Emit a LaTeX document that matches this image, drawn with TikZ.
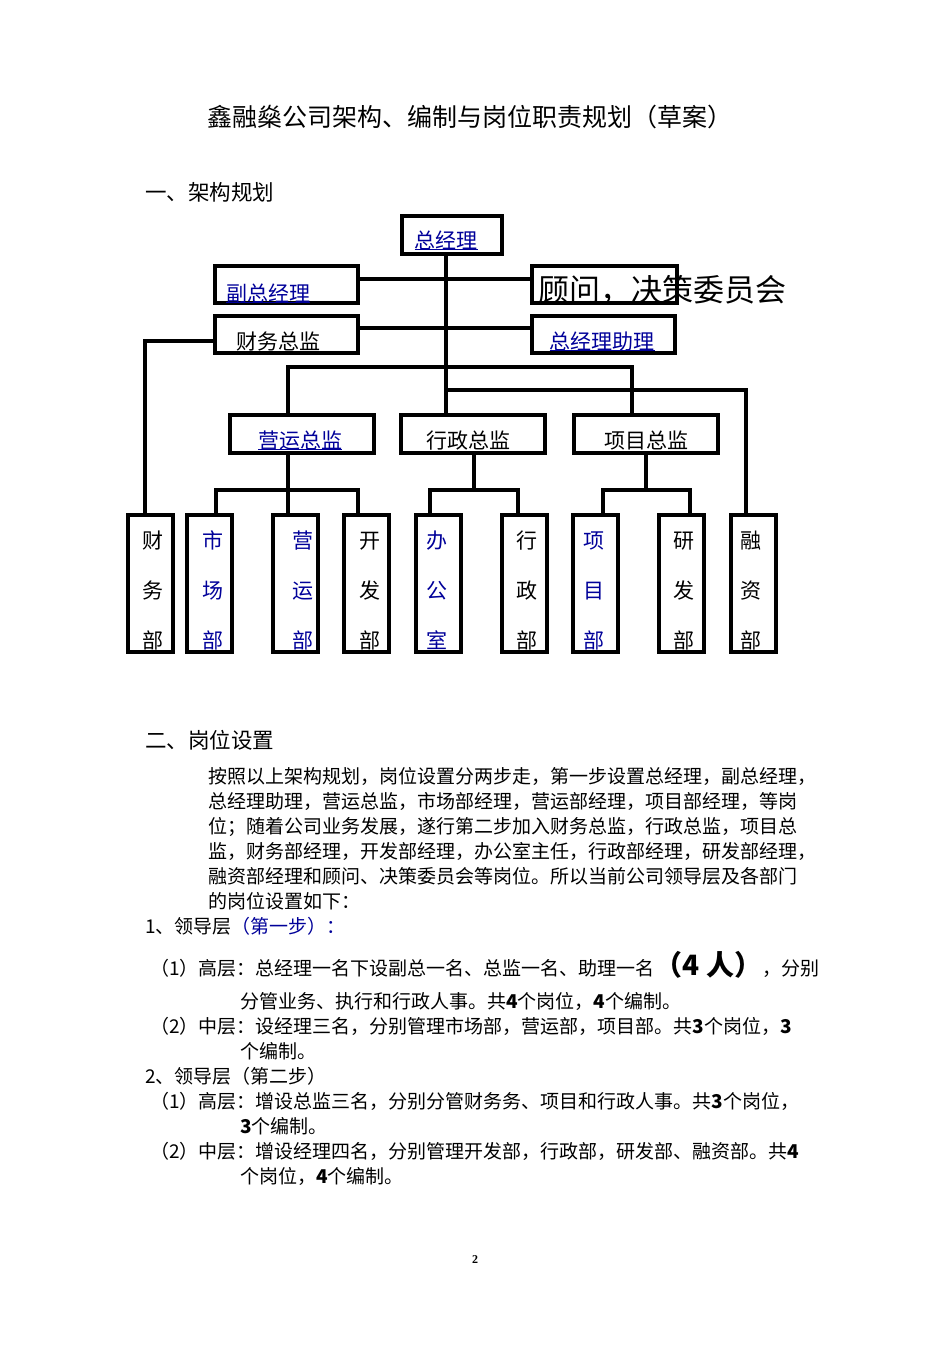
\documentclass[tikz,border=0pt]{standalone}
\usepackage{fontspec}
\setmainfont{Liberation Serif}
\newfontfamily\cjk{Noto Sans CJK SC}
\begin{document}
\begin{tikzpicture}[x=1pt,y=-1pt,
  box/.style={draw,line width=3.2pt},
  ln/.style={line width=3.2pt},
  bl/.style={text=blue!60!black},
  lbl/.style={font=\cjk\fontsize{21}{21}\selectfont,anchor=base},
  txt/.style={anchor=base west,inner sep=0,font=\cjk\fontsize{19}{19}\selectfont}]
\useasboundingbox (0,0) rectangle (950,1345);
\node[anchor=base,font=\cjk\fontsize{25}{25}\selectfont] (title) at (470,126) {鑫融燊公司架构、编制与岗位职责规划（草案）};
\node[txt,font=\cjk\fontsize{21.5}{21.5}\selectfont] (h1) at (145,200) {一、架构规划};
% boxes
\draw[box] (402,216) rectangle (502,254);
\draw[box] (215,266) rectangle (358,303);
\draw[box] (532,266) rectangle (677,303);
\draw[box] (215,316) rectangle (358,353);
\draw[box] (532,316) rectangle (675,353);
\draw[box] (230,415) rectangle (374,453);
\draw[box] (401,415) rectangle (545,453);
\draw[box] (574,415) rectangle (718,453);
\foreach \x in {128,187,273,344,416,502,573,659,731}{\draw[box] (\x,515) rectangle ++(45,137);}
% labels
\node[lbl,bl] (n1) at (446,248) {\underbar{总经理}};
\node[lbl,bl] (n2) at (268,301) {\underbar{副总经理}};
\node[lbl,anchor=base west,font=\cjk\fontsize{31}{31}\selectfont] (n3) at (535,301) {顾问，决策委员会};
\node[lbl] (n4) at (278,349) {财务总监};
\node[lbl,bl] (n5) at (602,349) {\underbar{总经理助理}};
\node[lbl,bl] (n6) at (300,448) {\underbar{营运总监}};
\node[lbl] (n7) at (468,448) {行政总监};
\node[lbl] (n8) at (646,448) {项目总监};
\foreach \x/\a/\b/\c/\col in {150/财/务/部/black,210/市/场/部/blue!60!black,300/营/运/部/blue!60!black,367/开/发/部/black,434/办/公/室/blue!60!black,524/行/政/部/black,591/项/目/部/blue!60!black,681/研/发/部/black,748/融/资/部/black}{
  \node[lbl,text=\col] at (\x+3,548) {\a};
  \node[lbl,text=\col] at (\x+3,598) {\b};
  \node[lbl,text=\col] at (\x+3,648) {\c};}
% connectors
\draw[ln] (446,254) -- (446,415);
\draw[ln] (358,279) -- (532,279);
\draw[ln] (358,328) -- (532,328);
\draw[ln] (215,341) -- (145,341) -- (145,515);
\draw[ln] (288,415) -- (288,367) -- (632,367) -- (632,415);
\draw[ln] (446,390) -- (746,390) -- (746,515);
\draw[ln] (288,453) -- (288,515);
\draw[ln] (216,515) -- (216,490) -- (358,490) -- (358,515);
\draw[ln] (474,453) -- (474,490);
\draw[ln] (430,515) -- (430,490) -- (518,490) -- (518,515);
\draw[ln] (646,453) -- (646,490);
\draw[ln] (603,515) -- (603,490) -- (690,490) -- (690,515);
% section 2
\node[txt,font=\cjk\fontsize{21.5}{21.5}\selectfont] (h2) at (145,748) {二、岗位设置};
\node[txt] (p1) at (208,783) {按照以上架构规划，岗位设置分两步走，第一步设置总经理，副总经理，};
\node[txt] (p2) at (208,808) {总经理助理，营运总监，市场部经理，营运部经理，项目部经理，等岗};
\node[txt] (p3) at (208,833) {位；随着公司业务发展，遂行第二步加入财务总监，行政总监，项目总};
\node[txt] (p4) at (208,858) {监，财务部经理，开发部经理，办公室主任，行政部经理，研发部经理，};
\node[txt] (p5) at (208,883) {融资部经理和顾问、决策委员会等岗位。所以当前公司领导层及各部门};
\node[txt] (p6) at (208,908) {的岗位设置如下：};
\node[txt] (q1) at (145,933) {1、领导层\textcolor{blue!60!black}{（第一步）：}};
\node[txt] (q2) at (150,975) {（1）高层：总经理一名下设副总一名、总监一名、助理一名{\fontsize{28}{28}\selectfont\bfseries（4 人）}，分别};
\node[txt] (q3) at (240,1008) {分管业务、执行和行政人事。共\textbf{4}个岗位，\textbf{4}个编制。};
\node[txt] (q4) at (150,1033) {（2）中层：设经理三名，分别管理市场部，营运部，项目部。共\textbf{3}个岗位，\textbf{3}};
\node[txt] (q5) at (240,1058) {个编制。};
\node[txt] (q6) at (145,1083) {2、领导层（第二步）};
\node[txt] (q7) at (150,1108) {（1）高层：增设总监三名，分别分管财务务、项目和行政人事。共\textbf{3}个岗位，};
\node[txt] (q8) at (240,1133) {\textbf{3}个编制。};
\node[txt] (q9) at (150,1158) {（2）中层：增设经理四名，分别管理开发部，行政部，研发部、融资部。共\textbf{4}};
\node[txt] (q10) at (240,1183) {个岗位，\textbf{4}个编制。};
\node[anchor=base,font=\fontsize{12}{12}\selectfont\bfseries] (pg) at (475,1263) {2};
\end{tikzpicture}
\end{document}
